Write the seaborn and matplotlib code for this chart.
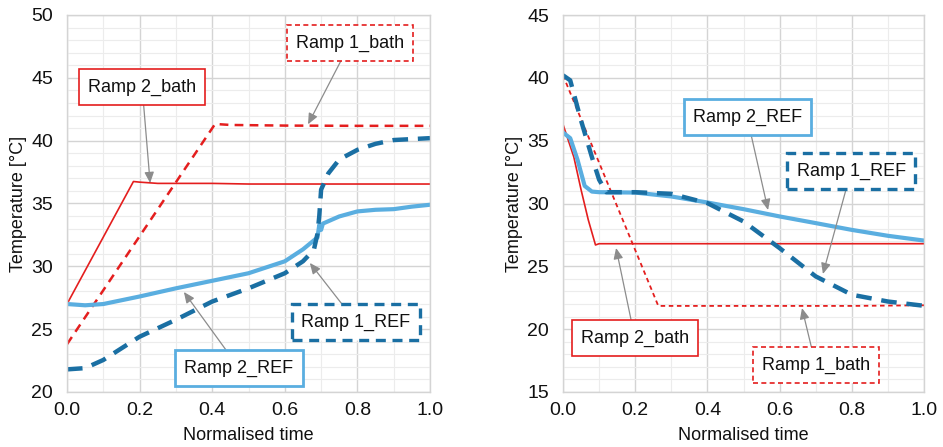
import numpy as np
import pandas as pd
import matplotlib
matplotlib.use("Agg")
import matplotlib.pyplot as plt
import seaborn as sns

# ---------------- data ----------------
# Left panel (heating)
L_r2bath_x = [0.0, 0.183, 0.20, 0.25, 0.30, 0.40, 0.50, 0.60, 0.70, 0.80, 1.0]
L_r2bath_y = [27.0, 36.75, 36.7, 36.6, 36.6, 36.6, 36.55, 36.55, 36.55, 36.55, 36.55]
L_r1bath_x = [0.0, 0.408, 0.45, 0.60, 0.80, 1.0]
L_r1bath_y = [23.8, 41.33, 41.25, 41.2, 41.18, 41.18]
L_r2ref_x = [0.0, 0.05, 0.10, 0.20, 0.30, 0.40, 0.50, 0.60, 0.65, 0.69, 0.695, 0.70, 0.705, 0.75, 0.80, 0.85, 0.90, 0.95, 1.0]
L_r2ref_y = [27.0, 26.9, 27.0, 27.6, 28.25, 28.85, 29.45, 30.4, 31.35, 32.3, 33.3, 32.9, 33.4, 33.97, 34.37, 34.5, 34.55, 34.75, 34.9]
L_r1ref_x = [0.0, 0.05, 0.10, 0.20, 0.30, 0.40, 0.50, 0.60, 0.65, 0.68, 0.69, 0.695, 0.70, 0.72, 0.75, 0.80, 0.85, 0.90, 1.0]
L_r1ref_y = [21.8, 21.9, 22.55, 24.4, 25.75, 27.2, 28.25, 29.45, 30.4, 31.3, 32.6, 34.0, 36.1, 37.4, 38.5, 39.27, 39.75, 40.05, 40.2]

# Right panel (cooling)
R_r2bath_x = [0.0, 0.03, 0.05, 0.07, 0.09, 0.10, 0.30, 0.60, 1.0]
R_r2bath_y = [36.3, 33.7, 31.1, 28.7, 26.7, 26.8, 26.8, 26.8, 26.8]
R_r1bath_x = [0.0, 0.264, 0.40, 0.60, 0.80, 1.0]
R_r1bath_y = [40.2, 21.85, 21.85, 21.85, 21.85, 21.9]
R_r2ref_x = [0.0, 0.02, 0.04, 0.06, 0.08, 0.10, 0.20, 0.30, 0.40, 0.50, 0.60, 0.70, 0.80, 0.90, 1.0]
R_r2ref_y = [35.65, 35.2, 33.5, 31.4, 30.95, 30.9, 30.87, 30.56, 30.08, 29.55, 28.97, 28.44, 27.9, 27.43, 27.05]
R_r1ref_x = [0.0, 0.02, 0.05, 0.08, 0.10, 0.12, 0.20, 0.30, 0.40, 0.50, 0.60, 0.70, 0.80, 0.90, 1.0]
R_r1ref_y = [40.2, 39.8, 36.6, 33.7, 31.9, 30.9, 30.9, 30.77, 30.03, 28.57, 26.45, 24.2, 22.74, 22.2, 21.86]

labels = ["Ramp 2_bath", "Ramp 1_bath", "Ramp 2_REF", "Ramp 1_REF"]

RED = "#e41e1e"
LBLUE = "#5aaee0"
DBLUE = "#1a6fa3"

# ---------------- figure ----------------
sns.set_style("white")
plt.rcParams["font.family"] = ["Liberation Sans", "DejaVu Sans"]

fig = plt.figure(figsize=(9.43, 4.47), dpi=100)
axL = fig.add_axes([67/943, 1-392/447, (430-67)/943, (392-15)/447])
axR = fig.add_axes([563/943, 1-392/447, (924-563)/943, (392-15)/447])


def style_axis(ax, ylo, yhi):
    ax.set_xlim(0, 1)
    ax.set_ylim(ylo, yhi)
    ax.set_xticks(np.arange(0, 1.01, 0.2))
    ax.set_xticks(np.arange(0, 1.01, 0.1), minor=True)
    ax.set_yticks(np.arange(ylo, yhi + 0.1, 5))
    ax.set_yticks(np.arange(ylo, yhi + 0.1, 1), minor=True)
    ax.grid(True, which="major", color="#d4d4d4", lw=1.0)
    ax.grid(True, which="minor", color="#ececec", lw=0.8)
    ax.set_axisbelow(True)
    ax.xaxis.set_major_formatter(matplotlib.ticker.FormatStrFormatter("%.1f"))
    ax.tick_params(axis="both", which="both", length=0, labelsize=14, colors="#111111")
    ax.tick_params(axis="x", pad=7)
    ax.tick_params(axis="y", pad=10)
    for s in ax.spines.values():
        s.set_color("#d4d4d4")
        s.set_linewidth(1.0)
    ax.set_xlabel("Normalised time", fontsize=13, labelpad=6, color="#111111")
    ax.set_ylabel("Temperature [°C]", fontsize=13, labelpad=3, color="#111111")


def line(ax, x, y, color, lw, ls):
    sns.lineplot(x=x, y=y, ax=ax, color=color, lw=lw, linestyle=ls,
                 estimator=None, sort=False)


def note(ax, text, xy, xytext, ec, ls, lw):
    ax.annotate(text, xy=xy, xytext=xytext, textcoords="data",
                ha="center", va="center", fontsize=13, color="#111111",
                bbox=dict(boxstyle="square,pad=0.5", fc="white", ec=ec, lw=lw, ls=ls),
                arrowprops=dict(arrowstyle="-|>,head_length=0.5,head_width=0.22",
                                color="#8c8c8c", lw=0.9, shrinkA=0, shrinkB=0))


# Left panel
line(axL, L_r2bath_x, L_r2bath_y, RED, 1.2, "-")
line(axL, L_r1bath_x, L_r1bath_y, RED, 1.8, (0, (3.5, 2.5)))
line(axL, L_r2ref_x, L_r2ref_y, LBLUE, 3.0, "-")
line(axL, L_r1ref_x, L_r1ref_y, DBLUE, 3.2, (0, (3.5, 2.2)))
style_axis(axL, 20, 50)
note(axL, labels[1], (0.664, 41.3), (0.78, 47.77), RED, (0, (3, 2)), 1.2)
note(axL, labels[0], (0.229, 36.63), (0.207, 44.27), RED, "-", 1.2)
note(axL, labels[3], (0.669, 30.27), (0.796, 25.57), DBLUE, (0, (3, 2)), 2.4)
note(axL, labels[2], (0.322, 27.96), (0.474, 21.91), LBLUE, "-", 2.0)

# Right panel
line(axR, R_r2bath_x, R_r2bath_y, RED, 1.2, "-")
line(axR, R_r1bath_x, R_r1bath_y, RED, 1.3, (0, (2.5, 2.0)))
line(axR, R_r2ref_x, R_r2ref_y, LBLUE, 3.0, "-")
line(axR, R_r1ref_x, R_r1ref_y, DBLUE, 3.2, (0, (3.5, 2.2)))
style_axis(axR, 15, 45)
note(axR, labels[2], (0.568, 29.48), (0.51, 36.88), LBLUE, "-", 2.0)
note(axR, labels[3], (0.72, 24.39), (0.798, 32.59), DBLUE, (0, (3, 2)), 2.4)
note(axR, labels[0], (0.147, 26.46), (0.199, 19.30), RED, "-", 1.2)
note(axR, labels[1], (0.662, 21.68), (0.70, 17.15), RED, (0, (3, 2)), 1.2)

fig.savefig("out.png", dpi=100)
